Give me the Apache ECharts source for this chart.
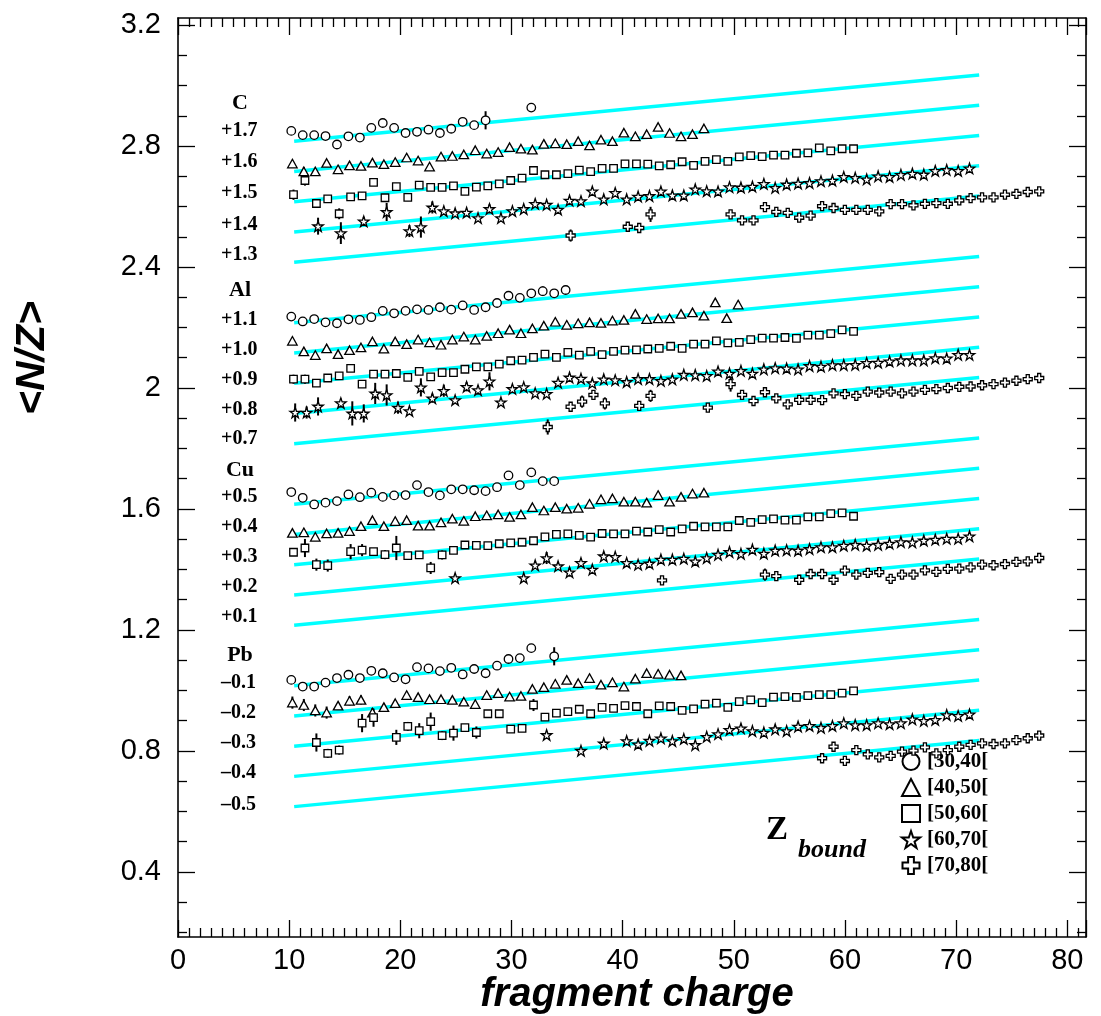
<!DOCTYPE html>
<html><head><meta charset="utf-8">
<script src="https://cdn.jsdelivr.net/npm/echarts@6/dist/echarts.min.js"></script>
<style>html,body{margin:0;padding:0;background:#fff}#c{width:1101px;height:1016px}</style>
</head><body><div id="c"></div>
<script>
// ---------- DATA ----------
// x position (axis units) of the fragment-charge columns Z = 10 ... 75
const charge = [10.39, 11.42, 12.45, 13.47, 14.50, 15.53, 16.56, 17.59, 18.62, 19.64,
  20.67, 21.70, 22.73, 23.76, 24.78, 25.81, 26.84, 27.87, 28.90, 29.93,
  30.95, 31.98, 33.01, 34.04, 35.07, 36.10, 37.12, 38.15, 39.18, 40.21,
  41.24, 42.26, 43.29, 44.32, 45.35, 46.38, 47.41, 48.43, 49.46, 50.49,
  51.52, 52.55, 53.57, 54.60, 55.63, 56.66, 57.69, 58.72, 59.74, 60.77,
  61.80, 62.83, 63.86, 64.88, 65.91, 66.94, 67.97, 69.00, 70.03, 71.05,
  72.08, 73.11, 74.14, 75.17, 76.19, 77.22];
// small horizontal displacement of each Z_bound bin
const binShift = [-0.2, -0.1, 0, 0.15, 0.25];
const binNames = ['[30,40[', '[40,50[', '[50,60[', '[60,70[', '[70,80['];
const targets = ['C', 'Al', 'Cu', 'Pb'];
const offsetLabels = [['+1.7','+1.6','+1.5','+1.4','+1.3'], ['+1.1','+1.0','+0.9','+0.8','+0.7'],
  ['+0.5','+0.4','+0.3','+0.2','+0.1'], ['\u20130.1','\u20130.2','\u20130.3','\u20130.4','\u20130.5']];
const offsets = [[1.7,1.6,1.5,1.4,1.3],[1.1,1.0,0.9,0.8,0.7],[0.5,0.4,0.3,0.2,0.1],[-0.1,-0.2,-0.3,-0.4,-0.5]];
// reference line (before offset): end points
const refX = [10.45, 72.07];
const refY = [1.116, 1.335];

const gap = n => new Array(n).fill(null);

// <N/Z> + offset, column by column starting at Z = 10 (null = no point)
const C_b1 = [2.850, 2.836, 2.836, 2.833, 2.805, 2.832, 2.828, 2.860, 2.876, 2.860, 2.843, 2.847, 2.854, 2.843, 2.857, 2.880, 2.869, 2.885, null, null, null, 2.927];
const C_b2 = [2.742, 2.716, 2.716, 2.744, 2.723, 2.736, 2.734, 2.745, 2.740, 2.747, 2.762, 2.752, 2.732, 2.765, 2.767, 2.772, 2.786, 2.775, 2.780, 2.796, 2.791, 2.788, 2.807, 2.809, 2.806, 2.816, 2.802, 2.821, 2.816, 2.844, 2.832, 2.839, 2.863, 2.843, 2.832, 2.839, 2.858];
const C_b3 = [2.639, 2.686, 2.610, 2.625, 2.576, 2.632, 2.635, 2.680, 2.629, 2.666, 2.630, 2.671, 2.663, 2.663, 2.668, 2.650, 2.664, 2.668, 2.675, 2.686, 2.694, 2.719, 2.705, 2.705, 2.709, 2.720, 2.715, 2.726, 2.726, 2.741, 2.741, 2.740, 2.734, 2.738, 2.748, 2.736, 2.749, 2.755, 2.749, 2.764, 2.768, 2.765, 2.770, 2.770, 2.776, 2.777, 2.794, 2.784, 2.791, 2.791];
const C_b4 = [null, null, 2.535, null, 2.512, null, 2.551, null, 2.582, null, 2.519, 2.532, 2.597, 2.585, 2.578, 2.580, 2.562, 2.592, 2.562, 2.585, 2.592, 2.609, 2.606, 2.590, 2.620, 2.618, 2.650, 2.624, 2.645, 2.624, 2.633, 2.635, 2.650, 2.637, 2.637, 2.657, 2.651, 2.650, 2.664, 2.663, 2.666, 2.675, 2.662, 2.673, 2.676, 2.678, 2.684, 2.686, 2.698, 2.695, 2.690, 2.700, 2.698, 2.705, 2.709, 2.706, 2.718, 2.721, 2.718, 2.726];
const C_b5 = [...gap(24), 2.504, null, null, null, null, 2.533, 2.529, 2.574, null, null, null, null, null, null, 2.574, 2.554, 2.554, 2.598, 2.582, 2.579, 2.563, 2.570, 2.601, 2.595, 2.589, 2.589, 2.589, 2.584, 2.608, 2.608, 2.604, 2.609, 2.611, 2.609, 2.620, 2.628, 2.630, 2.630, 2.639, 2.642, 2.648, 2.650];

const Al_b1 = [2.236, 2.220, 2.228, 2.217, 2.214, 2.227, 2.225, 2.234, 2.255, 2.247, 2.255, 2.260, 2.258, 2.267, 2.259, 2.273, 2.258, 2.267, 2.281, 2.305, 2.298, 2.313, 2.320, 2.313, 2.324];
const Al_b2 = [2.156, 2.121, 2.109, 2.131, 2.112, 2.125, 2.134, 2.154, 2.130, 2.154, 2.145, 2.160, 2.151, 2.143, 2.160, 2.170, 2.160, 2.172, 2.181, 2.193, 2.181, 2.197, 2.206, 2.219, 2.209, 2.214, 2.217, 2.215, 2.223, 2.225, 2.245, 2.228, 2.230, 2.230, 2.245, 2.250, 2.239, 2.283, 2.231, 2.276];
const Al_b3 = [2.029, 2.029, 2.016, 2.033, 2.040, 2.065, 2.013, 2.046, 2.046, 2.048, 2.035, 2.055, 2.037, 2.051, 2.051, 2.062, 2.070, 2.070, 2.079, 2.090, 2.092, 2.101, 2.112, 2.101, 2.118, 2.109, 2.121, 2.110, 2.121, 2.125, 2.126, 2.129, 2.131, 2.138, 2.131, 2.145, 2.145, 2.156, 2.149, 2.151, 2.160, 2.165, 2.165, 2.167, 2.164, 2.175, 2.175, 2.180, 2.192, 2.187];
const Al_b4 = [1.919, 1.919, 1.939, null, 1.950, 1.916, 1.916, 1.982, 1.977, 1.935, 1.924, 2.002, 1.966, 1.991, 1.960, 2.004, 1.993, 2.022, 1.953, 1.997, 2.003, 1.983, 1.981, 2.018, 2.035, 2.031, 2.016, 2.029, 2.026, 2.020, 2.030, 2.030, 2.024, 2.029, 2.044, 2.043, 2.040, 2.055, 2.048, 2.057, 2.048, 2.062, 2.066, 2.065, 2.062, 2.073, 2.071, 2.076, 2.076, 2.077, 2.083, 2.084, 2.088, 2.092, 2.092, 2.092, 2.099, 2.098, 2.110, 2.110];
const Al_b5 = [...gap(22), 1.871, null, 1.938, 1.955, 1.977, 1.949, null, null, 1.941, 1.974, null, null, null, null, 1.935, null, 2.013, 1.977, 1.957, 1.986, 1.966, 1.946, 1.961, 1.961, 1.960, 1.982, 1.980, 1.974, 1.988, 1.985, 1.988, 1.982, 1.988, 1.994, 1.996, 2.000, 2.004, 2.005, 2.009, 2.013, 2.018, 2.024, 2.029, 2.033];

const Cu_b1 = [1.656, 1.637, 1.615, 1.621, 1.626, 1.648, 1.639, 1.654, 1.640, 1.645, 1.646, 1.679, 1.656, 1.645, 1.665, 1.665, 1.662, 1.659, 1.672, 1.711, 1.679, 1.721, 1.692, 1.692];
const Cu_b2 = [1.521, 1.523, 1.508, 1.519, 1.521, 1.527, 1.543, 1.563, 1.543, 1.560, 1.563, 1.545, 1.545, 1.556, 1.568, 1.561, 1.576, 1.579, 1.582, 1.574, 1.582, 1.606, 1.595, 1.606, 1.601, 1.604, 1.617, 1.632, 1.635, 1.624, 1.624, 1.621, 1.646, 1.624, 1.640, 1.651, 1.654];
const Cu_b3 = [1.457, 1.471, 1.416, 1.413, null, 1.459, 1.464, 1.459, 1.449, 1.471, 1.446, 1.448, 1.405, 1.448, 1.463, 1.481, 1.480, 1.479, 1.485, 1.488, 1.490, 1.495, 1.508, 1.516, 1.518, 1.513, 1.507, 1.519, 1.518, 1.518, 1.527, 1.524, 1.532, 1.524, 1.534, 1.543, 1.541, 1.541, 1.541, 1.562, 1.556, 1.565, 1.567, 1.563, 1.563, 1.574, 1.574, 1.585, 1.587, 1.576];
const Cu_b4 = [...gap(14), 1.372, null, null, null, null, null, 1.372, 1.414, 1.438, 1.411, 1.391, 1.422, 1.400, 1.444, 1.442, 1.422, 1.416, 1.420, 1.433, 1.433, 1.436, 1.427, 1.438, 1.449, 1.458, 1.452, 1.466, 1.453, 1.463, 1.464, 1.463, 1.468, 1.474, 1.474, 1.479, 1.482, 1.479, 1.482, 1.486, 1.491, 1.490, 1.496, 1.499, 1.502, 1.502, 1.510];
const Cu_b5 = [...gap(32), 1.364, null, null, null, null, null, null, null, null, 1.383, 1.378, null, 1.366, 1.385, 1.385, 1.366, 1.396, 1.383, 1.389, 1.391, 1.369, 1.383, 1.383, 1.397, 1.392, 1.402, 1.403, 1.407, 1.416, 1.414, 1.418, 1.425, 1.427, 1.438];

const Pb_b1 = [1.035, 1.013, 1.013, 1.026, 1.041, 1.052, 1.041, 1.065, 1.057, 1.043, 1.037, 1.077, 1.073, 1.064, 1.075, 1.053, 1.071, 1.057, 1.082, 1.104, 1.107, 1.140, null, 1.113];
const Pb_b2 = [0.960, 0.952, 0.934, 0.927, 0.950, 0.966, 0.969, 0.927, 0.945, 0.958, 0.985, 0.978, 0.971, 0.971, 0.969, 0.963, 0.955, 0.985, 0.991, 0.980, 0.982, 1.005, 1.011, 1.022, 1.035, 1.024, 1.041, 1.019, 1.027, 1.013, 1.039, 1.057, 1.055, 1.052, 1.050];
const Pb_b3 = [null, null, 0.828, 0.792, 0.803, null, 0.892, 0.910, null, 0.845, 0.881, 0.867, 0.897, 0.851, 0.859, 0.877, 0.861, 0.923, 0.923, 0.872, 0.875, 0.952, 0.912, 0.925, 0.930, 0.938, 0.923, 0.944, 0.941, 0.950, 0.947, 0.923, 0.949, 0.947, 0.934, 0.939, 0.955, 0.958, 0.944, 0.963, 0.969, 0.960, 0.978, 0.980, 0.977, 0.983, 0.986, 0.986, 0.991, 0.999];
const Pb_b4 = [...gap(22), 0.853, null, null, 0.801, null, 0.825, null, 0.833, 0.822, 0.834, 0.842, 0.833, 0.840, 0.820, 0.847, 0.856, 0.870, 0.875, 0.866, 0.861, 0.872, 0.866, 0.881, 0.883, 0.877, 0.883, 0.892, 0.886, 0.886, 0.892, 0.889, 0.892, 0.905, 0.900, 0.903, 0.919, 0.916, 0.921];
const Pb_b5 = [...gap(46), 0.776, 0.814, 0.767, 0.803, 0.789, 0.779, 0.784, 0.798, 0.801, 0.812, 0.792, 0.803, 0.814, 0.820, 0.825, 0.823, 0.825, 0.836, 0.842, 0.851];

// visible error bars: [column index, half length]
const C_e1 = [[0,0.012],[8,0.013],[15,0.012],[17,0.03],[21,0.012]];
const C_e2 = [[1,0.015]];
const C_e3 = [[0,0.017],[1,0.017],[2,0.012],[4,0.018],[5,0.012],[6,0.012],[9,0.012],[10,0.012]];
const C_e4 = [[2,0.028],[4,0.036],[6,0.015],[8,0.03],[10,0.02],[11,0.035],[12,0.02],[17,0.015]];
const C_e5 = [[24,0.02],[31,0.025],[41,0.012]];
const Al_e1 = [[20,0.012],[22,0.016],[24,0.014]];
const Al_e2 = [[34,0.012],[39,0.012]];
const Al_e3 = [[0,0.015],[1,0.015],[3,0.012]];
const Al_e4 = [[0,0.03],[1,0.02],[2,0.03],[4,0.015],[5,0.04],[6,0.03],[7,0.035],[8,0.035],[9,0.02],[11,0.03],[12,0.015],[13,0.02],[15,0.015],[16,0.015],[17,0.03]];
const Al_e5 = [[22,0.025],[25,0.02],[26,0.012],[27,0.02],[30,0.012],[31,0.02],[38,0.025],[39,0.012]];
const Cu_e1 = [];
const Cu_e2 = [];
const Cu_e3 = [[0,0.012],[1,0.03],[2,0.02],[3,0.02],[5,0.025],[6,0.02],[8,0.015],[9,0.04],[11,0.012],[12,0.02],[13,0.015],[16,0.012],[49,0.012]];
const Cu_e4 = [[21,0.012],[22,0.02],[24,0.015],[25,0.012]];
const Cu_e5 = [[32,0.012],[41,0.02],[45,0.012],[48,0.012]];
const Pb_e1 = [[0,0.012],[5,0.012],[6,0.012],[15,0.012],[17,0.012],[18,0.012],[21,0.012],[23,0.03]];
const Pb_e2 = [[0,0.02],[1,0.02],[2,0.02],[3,0.02],[4,0.012],[5,0.015],[6,0.015],[7,0.015],[8,0.012],[32,0.012],[34,0.012]];
const Pb_e3 = [[2,0.03],[3,0.015],[4,0.015],[6,0.03],[7,0.03],[9,0.025],[10,0.015],[11,0.025],[12,0.03],[13,0.015],[14,0.025],[15,0.012],[16,0.02],[21,0.02]];
const Pb_e4 = [[27,0.012]];
const Pb_e5 = [[46,0.012],[49,0.015]];

const yTicks = [0.4, 0.8, 1.2, 1.6, 2, 2.4, 2.8, 3.2];
const yMinor = [0.2,0.3,0.5,0.6,0.7,0.9,1.0,1.1,1.3,1.4,1.5,1.7,1.8,1.9,2.1,2.2,2.3,2.5,2.6,2.7,2.9,3.0,3.1];

// ---------- BUILD ----------
const values = [[C_b1,C_b2,C_b3,C_b4,C_b5],[Al_b1,Al_b2,Al_b3,Al_b4,Al_b5],[Cu_b1,Cu_b2,Cu_b3,Cu_b4,Cu_b5],[Pb_b1,Pb_b2,Pb_b3,Pb_b4,Pb_b5]];
const errors = [[C_e1,C_e2,C_e3,C_e4,C_e5],[Al_e1,Al_e2,Al_e3,Al_e4,Al_e5],[Cu_e1,Cu_e2,Cu_e3,Cu_e4,Cu_e5],[Pb_e1,Pb_e2,Pb_e3,Pb_e4,Pb_e5]];

const STAR = 'path://M50,0 L61.8,35.1 L98.1,35.1 L68.8,56.8 L79.4,90.5 L50,69.5 L20.6,90.5 L31.2,56.8 L1.9,35.1 L38.2,35.1 Z';
const CROSS = 'path://M33,0 L67,0 L67,33 L100,33 L100,67 L67,67 L67,100 L33,100 L33,67 L0,67 L0,33 L33,33 Z';
const symbols = ['circle', 'triangle', 'rect', STAR, CROSS];
const symSize = [8.5, [9.5, 8.5], 7.5, 10.5, 9];

const CYAN = '#00ffff';
const series = [];
offsets.forEach(row => row.forEach(off => {
  series.push({
    type: 'line', silent: true, showSymbol: false, symbol: 'none', z: 1,
    lineStyle: { color: CYAN, width: 3.5 }, animation: false,
    data: [[refX[0], refY[0] + off], [refX[1], refY[1] + off]]
  });
}));
const errData = [];
values.forEach((grp, g) => grp.forEach((arr, b) => {
  const pts = [];
  arr.forEach((v, k) => { if (v !== null) pts.push([charge[k] + binShift[b], v]); });
  errors[g][b].forEach(([k, e]) => { if (arr[k] != null) errData.push([charge[k] + binShift[b], arr[k], e]); });
  series.push({
    type: 'scatter', name: binNames[b], z: 4, animation: false,
    symbol: symbols[b], symbolSize: symSize[b],
    itemStyle: { color: '#ffffff', borderColor: '#000000', borderWidth: 1.3, opacity: 1 },
    emphasis: { disabled: true },
    data: pts
  });
}));
series.push({
  type: 'custom', z: 3, silent: true, animation: false,
  encode: { x: 0, y: 1 },
  renderItem: (params, api) => {
    const x = api.value(0), y = api.value(1), e = api.value(2);
    const a = api.coord([x, y - e]), b = api.coord([x, y + e]);
    return { type: 'line', shape: { x1: a[0], y1: a[1], x2: b[0], y2: b[1] }, style: { stroke: '#000', lineWidth: 2 } };
  },
  data: errData
});

const X_MAX = 81.68, Y_MIN = 0.185, Y_MAX = 3.2232;
const axisLineStyle = { color: '#000', width: 1.6 };
const tickStyle = { color: '#000', width: 1.3 };
const serif = 'Liberation Serif, Times New Roman, serif';
const sans = 'Liberation Sans, Arial, Helvetica, sans-serif';

function yAx(pos, labels, minor) {
  return {
    type: 'value', position: pos, min: Y_MIN, max: Y_MAX,
    axisLine: { show: !minor, lineStyle: axisLineStyle },
    axisTick: { show: true, inside: true, length: minor ? 9 : 17, lineStyle: tickStyle, customValues: minor ? yMinor : yTicks },
    axisLabel: labels ? { show: true, customValues: yTicks, fontSize: 29, fontFamily: sans, color: '#000', margin: 17 } : { show: false },
    splitLine: { show: false }
  };
}
function xAx(pos, labels) {
  return {
    type: 'value', position: pos, min: 0, max: X_MAX, interval: 10,
    axisLine: { show: true, onZero: false, lineStyle: axisLineStyle },
    axisTick: { show: true, inside: true, length: 17, lineStyle: tickStyle },
    minorTick: { show: true, splitNumber: 10, length: 9, lineStyle: tickStyle },
    axisLabel: labels ? { show: true, fontSize: 29, fontFamily: sans, color: '#000', margin: 9,
      formatter: v => (v <= 80 ? String(v) : '') } : { show: false },
    splitLine: { show: false }
  };
}

const graphic = [];
const txt = (text, x, y, font, align, extra) => Object.assign({ type: 'text', z: 10, x, y,
  style: { text, font, fill: '#000', textAlign: align || 'left', textVerticalAlign: 'middle' } }, extra || {});
const groupLabelY = [103, 290, 470, 655];
const offLabelY = [[131, 162, 193, 225, 255], [320, 350, 380, 410, 439], [497, 527, 557, 587, 617], [683, 713, 743, 773, 805]];
targets.forEach((t, g) => {
  graphic.push(txt(t, 240, groupLabelY[g], 'bold 22px ' + serif, 'center'));
  offsetLabels[g].forEach((s, i) => graphic.push(txt(s, 221, offLabelY[g][i], 'bold 20px ' + serif, 'left')));
});
graphic.push(txt('<N/Z>', 33, 358, 'bold italic 41px ' + sans, 'center', { rotation: Math.PI / 2 }));
graphic.push(txt('fragment charge', 637, 995, 'bold italic 40px ' + sans, 'center'));
graphic.push(txt('Z', 777, 830, 'bold 33px ' + serif, 'center'));
graphic.push(txt('bound', 832, 850, 'bold italic 26px ' + serif, 'center'));

const option = {
  backgroundColor: '#fff',
  animation: false,
  grid: { left: 178, right: 15, top: 18, bottom: 79 },
  xAxis: [xAx('bottom', true), xAx('top', false)],
  yAxis: [yAx('left', true, false), yAx('left', false, true), yAx('right', false, false), yAx('right', false, true)],
  legend: {
    show: true, data: binNames, orient: 'vertical', left: 896, top: 745,
    itemWidth: 18, itemHeight: 17, itemGap: 3, selectedMode: false,
    textStyle: { fontFamily: serif, fontWeight: 'bold', fontSize: 21, color: '#000', padding: [0, 0, 0, 2], lineHeight: 23 }
  },
  graphic,
  series
};
const chart = echarts.init(document.getElementById('c'), null, { renderer: 'canvas' });
chart.setOption(option);
</script></body></html>
